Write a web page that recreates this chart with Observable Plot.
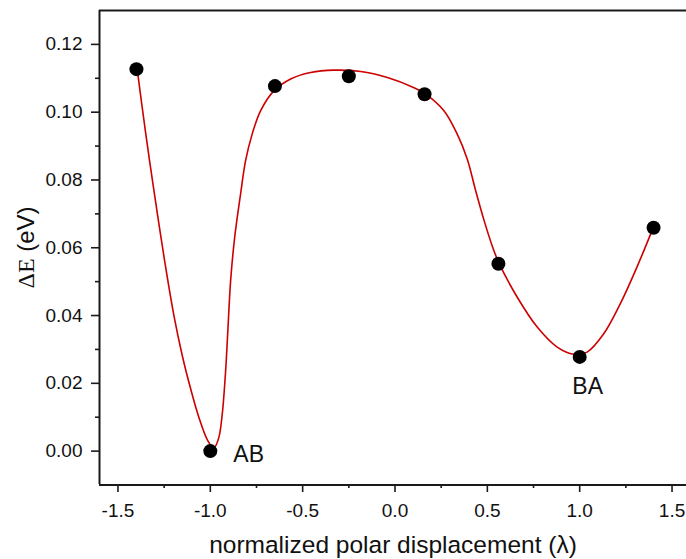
<!DOCTYPE html>
<html>
<head>
<meta charset="utf-8">
<script src="https://cdn.jsdelivr.net/npm/d3@7"></script>
<script src="https://cdn.jsdelivr.net/npm/@observablehq/plot@0.6"></script>
<style>
  html, body { margin: 0; padding: 0; background: #fff; }
</style>
</head>
<body>
<div id="chart"></div>
<script>
// Computed energies along the polar displacement path
const lambda = [-1.4, -1.0, -0.65, -0.25, 0.16, 0.56, 1.0, 1.4];
const deltaE = [0.1127, 0.0, 0.1077, 0.1106, 0.1053, 0.0553, 0.0278, 0.0659];

// Smooth fitted curve through the energies
const fitX = [-1.396, -1.350, -1.305, -1.251, -1.197, -1.151, -1.106, -1.061, -1.016, -0.989,
  -0.975, -0.953, -0.935, -0.917, -0.905, -0.890, -0.868, -0.836, -0.809, -0.773, -0.728,
  -0.656, -0.565, -0.457, -0.331, -0.185, -0.041, 0.103, 0.166, 0.265, 0.337, 0.391, 0.436,
  0.481, 0.526, 0.562, 0.662, 0.770, 0.878, 0.968, 1.040, 1.130, 1.220, 1.310, 1.395];
const fitY = [0.1127, 0.0938, 0.0768, 0.0574, 0.0400, 0.0280, 0.0183, 0.0098, 0.0033, 0.0013,
  0.0013, 0.0042, 0.0111, 0.0238, 0.0356, 0.0503, 0.0631, 0.0759, 0.0857, 0.0936, 0.1004,
  0.1063, 0.1098, 0.1117, 0.1124, 0.1120, 0.1102, 0.1072, 0.1053, 0.1004, 0.0935, 0.0862, 0.0770,
  0.0683, 0.0606, 0.0556, 0.0454, 0.0366, 0.0307, 0.0286, 0.0292, 0.0346, 0.0435, 0.0543, 0.0655];

// Annotated configurations
const annotX = [-1.0, 1.0];
const annotY = [0.0, 0.0278];
const annotText = ["AB", "BA"];

// Axis ticks
const xTicks = [-1.5, -1.0, -0.5, 0.0, 0.5, 1.0, 1.5];
const xMinor = [-1.25, -0.75, -0.25, 0.25, 0.75, 1.25];
const yTicks = [0.00, 0.02, 0.04, 0.06, 0.08, 0.10, 0.12];
const yMinor = [0.01, 0.03, 0.05, 0.07, 0.09, 0.11];

const points = lambda.map((x, i) => ({x, y: deltaE[i]}));
const fit = fitX.map((x, i) => ({x, y: fitY[i]}));
const annots = annotText.map((t, i) => ({x: annotX[i], y: annotY[i], t}));

const axisColor = "#1a1a1a";
const textColor = "#111";

const chart = Plot.plot({
  width: 686,
  height: 559,
  marginLeft: 99,
  marginRight: 0,
  marginTop: 10,
  marginBottom: 75,
  style: {
    fontFamily: "'Liberation Sans', Arial, sans-serif",
    fontSize: "19px",
    background: "#fff",
    color: textColor
  },
  x: {domain: [-1.6, 1.6], range: [99, 690]},
  y: {domain: [-0.01, 0.13], range: [484.5, 10]},
  marks: [
    // minor ticks
    Plot.axisX(xMinor, {tickSize: 4, tickFormat: () => "", stroke: axisColor, strokeWidth: 1.6, label: null}),
    Plot.axisY(yMinor, {tickSize: 4, tickFormat: () => "", stroke: axisColor, strokeWidth: 1.6, label: null}),
    // major ticks with labels
    Plot.axisX(xTicks, {
      tickSize: 8, tickPadding: 11, stroke: axisColor, strokeWidth: 1.6, fontSize: 19,
      tickFormat: d => d.toFixed(1),
      label: "normalized polar displacement (λ)", labelAnchor: "center", labelOffset: 68, labelArrow: "none"
    }),
    Plot.axisY(yTicks, {
      tickSize: 8, tickPadding: 9, stroke: axisColor, strokeWidth: 1.6, fontSize: 19,
      tickFormat: d => d.toFixed(2),
      label: "ΔE (eV)", labelAnchor: "center", labelOffset: 83, labelArrow: "none"
    }),
    // frame lines
    Plot.ruleX([-1.6, 1.6], {stroke: axisColor, strokeWidth: 2}),
    Plot.ruleY([-0.01, 0.13], {stroke: axisColor, strokeWidth: 2}),
    // fitted curve and data
    Plot.line(fit, {x: "x", y: "y", curve: "catmull-rom", stroke: "#cc0000", strokeWidth: 1.6}),
    Plot.dot(points, {x: "x", y: "y", r: 7, fill: "#000", stroke: "none"}),
    // configuration labels
    Plot.text(annots.slice(0, 1), {x: "x", y: "y", text: "t", textAnchor: "start", dx: 23, dy: 4, fontSize: 23, fill: textColor}),
    Plot.text(annots.slice(1), {x: "x", y: "y", text: "t", textAnchor: "middle", dx: 8, dy: 30, fontSize: 23, fill: textColor})
  ]
});

// Axis titles: larger type, with ΔE set in a serif face
const svg = d3.select(chart);
svg.selectAll("g[aria-label='x-axis label'] text").attr("font-size", 24.5);
svg.selectAll("g[aria-label='y-axis label'] text").attr("font-size", 24).each(function () {
  const t = d3.select(this);
  if (t.text() === "ΔE (eV)") {
    t.text(null);
    t.append("tspan").attr("font-family", "'Liberation Serif', 'Times New Roman', serif").text("ΔE");
    t.append("tspan").text(" (eV)");
  }
});

document.getElementById("chart").appendChild(chart);
</script>
</body>
</html>
